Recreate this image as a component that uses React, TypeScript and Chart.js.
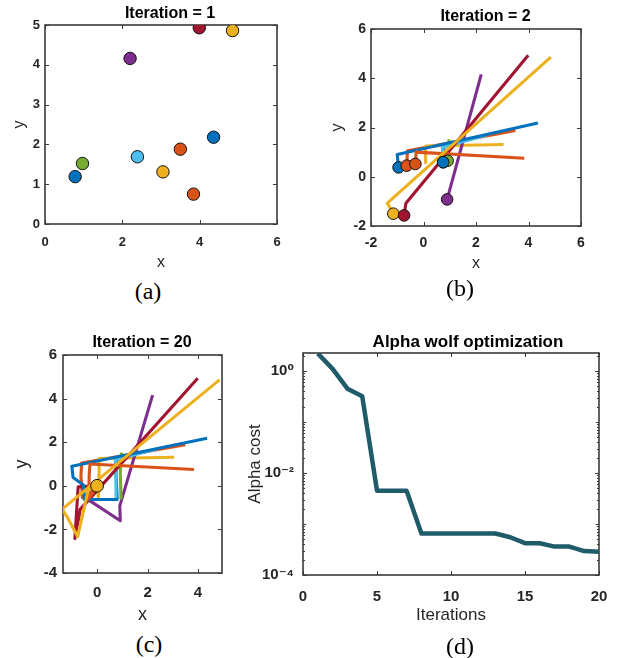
import React, { useEffect, useRef } from 'react';
import { Chart, registerables } from 'chart.js';

Chart.register(...registerables);

const SANS = "'Liberation Sans', Arial, Helvetica, 'DejaVu Sans', sans-serif";
const SERIF = "'Liberation Serif', 'Times New Roman', 'DejaVu Serif', serif";
const INK = '#262626';
Chart.defaults.font.family = SANS;

// MATLAB default colour order
const BLUE = '#0072BD';
const ORANGE = '#D95319';
const YELLOW = '#EDB120';
const PURPLE = '#7E2F8E';
const GREEN = '#77AC30';
const CYAN = '#4DBEEE';
const RED = '#A2142F';
const COST_COLOR = '#1F5B69';

// ---------- data ----------
const agentColors = [BLUE, ORANGE, YELLOW, PURPLE, GREEN, CYAN, RED, BLUE, ORANGE, YELLOW];

// (a) initial wolf positions, iteration 1
const startX = [0.78, 3.5, 3.05, 2.2, 0.97, 2.39, 3.99, 4.36, 3.84, 4.85];
const startY = [1.19, 1.88, 1.31, 4.16, 1.52, 1.69, 4.93, 2.18, 0.75, 4.86];

// (b) moves made up to iteration 2 (after the start point)
const iter2StepsX = [[0.75], [-0.61, -0.64], [0.08, 0.08], [0.9], [0.92], [0.72, 0.75], [-0.67, -0.74], [-1.0, -0.95], [-0.28, -0.31], [-1.38, -1.15]];
const iter2StepsY = [[0.59], [1.05, 0.45], [1.25, 0.57], [-0.92], [0.65], [1.2, 0.59], [-1.08, -1.57], [0.9, 0.38], [1.0, 0.52], [-1.07, -1.5]];
// agents whose marker is visible in (b), drawn in this order (later on top)
const iter2MarkerAgents = [10, 7, 8, 2, 9, 6, 5, 1, 4];

// (c) further moves up to iteration 20
const iter20StepsX = [[0.8], [-0.58, 0], [0.05, 0], [0.92, -0.4, 0], [0.95], [0.75], [-0.88, -0.75, 0], [-0.54, -0.5, 0.84], [-0.33, 0], [-0.77, -0.35, 0]];
const iter20StepsY = [[-0.63], [-0.55, 0], [-0.5, 0], [-1.6, -0.6, 0], [-0.63], [-0.63], [-2.42, -0.05, 0], [0.04, -0.63, -0.63], [-0.6, 0], [-2.33, -0.2, 0]];
const bestX20 = [0];
const bestY20 = [0];

// (d) alpha cost per iteration
const costIterations = [1, 2, 3, 4, 5, 6, 7, 8, 9, 10, 11, 12, 13, 14, 15, 16, 17, 18, 19, 20];
const alphaCost = [2.2, 1.1, 0.45, 0.32, 0.0045, 0.0045, 0.0045, 0.00065, 0.00065, 0.00065, 0.00065, 0.00065, 0.00065, 0.00055, 0.00042, 0.00042, 0.00036, 0.00036, 0.000295, 0.000285];

// tick values / labels
const ticksAX = [0, 2, 4, 6];
const ticksAY = [0, 1, 2, 3, 4, 5];
const ticksBX = [-2, 0, 2, 4, 6];
const ticksBY = [-2, 0, 2, 4, 6];
const ticksCX = [0, 2, 4];
const ticksCY = [-4, -2, 0, 2, 4, 6];
const ticksDX = [0, 5, 10, 15, 20];
const ticksDY = [1e-4, 1e-2, 1];
const labelsDY = ['10⁻⁴', '10⁻²', '10⁰'];

// ---------- helpers ----------
type Pt = { x: number; y: number };

function trail2(a: number): Pt[] {
  const pts: Pt[] = [{ x: startX[a], y: startY[a] }];
  iter2StepsX[a].forEach((x, i) => pts.push({ x, y: iter2StepsY[a][i] }));
  return pts;
}
function trail20(a: number): Pt[] {
  const pts = trail2(a);
  iter20StepsX[a].forEach((x, i) => pts.push({ x, y: iter20StepsY[a][i] }));
  return pts;
}

const boxPlugin = {
  id: 'matlabBox',
  beforeDatasetsDraw(chart: any, _args: any, opts: any) {
    const { ctx, chartArea, scales } = chart;
    const { left, right, top, bottom } = chartArea;
    const L = opts.tickLen ?? 4;
    ctx.save();
    ctx.strokeStyle = '#3a3a3a';
    ctx.lineWidth = 1;
    const line = (x1: number, y1: number, x2: number, y2: number) => {
      ctx.beginPath();
      ctx.moveTo(x1, y1);
      ctx.lineTo(x2, y2);
      ctx.stroke();
    };
    const xs = scales.x;
    const ys = scales.y;
    xs.ticks.forEach((t: any) => {
      const px = Math.round(xs.getPixelForValue(t.value)) + 0.5;
      line(px, bottom, px, bottom - L);
      line(px, top, px, top + L);
    });
    ys.ticks.forEach((t: any) => {
      const py = Math.round(ys.getPixelForValue(t.value)) + 0.5;
      line(left, py, left + L, py);
      line(right, py, right - L, py);
    });
    if (ys.type === 'logarithmic') {
      const e0 = Math.floor(Math.log10(ys.min));
      const e1 = Math.ceil(Math.log10(ys.max));
      for (let e = e0; e <= e1; e++) {
        for (let m = 1; m <= 9; m++) {
          const v = m * Math.pow(10, e);
          if (v < ys.min || v > ys.max) continue;
          if (m === 1 && e % 2 === 0) continue;
          const py = Math.round(ys.getPixelForValue(v)) + 0.5;
          const l = m === 1 ? L * 0.8 : L * 0.5;
          line(left, py, left + l, py);
          line(right, py, right - l, py);
        }
      }
    }
    ctx.lineWidth = 1.6;
    ctx.strokeStyle = '#3a3a3a';
    ctx.strokeRect(left, top, right - left, bottom - top);
    ctx.restore();
  },
};

interface AxisSpec {
  type?: 'linear' | 'logarithmic';
  min: number;
  max: number;
  ticks: number[];
  labels?: string[];
  tickSize: number;
  tickPad: number;
  size: number;
  title: string;
  titleSize: number;
  titlePad: number;
}

interface PanelSpec {
  left: number;
  top: number;
  w: number;
  h: number;
  title: string;
  titleSize: number;
  titlePadTop: number;
  titlePadBottom: number;
  gap: number;
  x: AxisSpec;
  y: AxisSpec;
  datasets: any[];
}

function axisOptions(a: AxisSpec, horizontal: boolean) {
  return {
    type: a.type ?? 'linear',
    position: horizontal ? 'bottom' : 'left',
    min: a.min,
    max: a.max,
    bounds: 'data',
    afterBuildTicks: (s: any) => {
      s.ticks = a.ticks.map((v) => ({ value: v }));
    },
    afterFit: (s: any) => {
      if (horizontal) s.height = a.size;
      else s.width = a.size;
    },
    grid: { display: false, drawTicks: false, tickLength: 0 },
    border: { display: false },
    ticks: {
      color: INK,
      padding: a.tickPad,
      maxRotation: 0,
      autoSkip: false,
      font: { family: SANS, size: a.tickSize, weight: 'bold' },
      callback: (v: any) => {
        const i = a.ticks.findIndex((t) => Math.abs(t - Number(v)) < Math.abs(t) * 1e-6 + 1e-9);
        if (a.labels && i >= 0) return a.labels[i];
        return String(v);
      },
    },
    title: {
      display: true,
      text: a.title,
      color: INK,
      font: { family: SANS, size: a.titleSize, weight: 'normal' },
      padding: horizontal ? { top: 0, bottom: a.titlePad } : { top: a.titlePad, bottom: 0 },
    },
  };
}

function buildConfig(p: PanelSpec): any {
  return {
    type: 'scatter',
    data: { datasets: p.datasets },
    plugins: [boxPlugin],
    options: {
      responsive: false,
      animation: false,
      devicePixelRatio: 1,
      events: [],
      layout: { padding: 0 },
      plugins: {
        legend: { display: false },
        tooltip: { enabled: false },
        title: {
          display: true,
          text: p.title,
          color: '#000',
          font: { family: SANS, size: p.titleSize, weight: 'bold', lineHeight: 1.2 },
          padding: { top: p.titlePadTop, bottom: p.titlePadBottom },
        },
        matlabBox: { tickLen: 4 },
      },
      scales: {
        x: axisOptions(p.x, true),
        y: axisOptions(p.y, false),
        gap: {
          type: 'linear',
          position: 'right',
          display: true,
          grid: { display: false, drawTicks: false },
          border: { display: false },
          ticks: { display: false },
          afterFit: (s: any) => {
            s.width = p.gap;
          },
        },
      },
    },
  };
}

function trailDatasets(trails: Pt[][]) {
  return trails.map((pts, k) => ({
    data: pts,
    showLine: true,
    borderColor: agentColors[k],
    backgroundColor: agentColors[k],
    borderWidth: 3.1,
    borderJoinStyle: 'round',
    borderCapStyle: 'butt',
    tension: 0,
    pointRadius: 0,
    order: trails.length - k,
  }));
}

function markerDataset(pts: Pt[], colors: string[], r: number) {
  return {
    data: pts,
    showLine: false,
    pointRadius: r,
    pointBackgroundColor: colors,
    pointBorderColor: '#111',
    pointBorderWidth: 1,
    order: 0,
  };
}

const agentIdx = startX.map((_, i) => i);

const panelA: PanelSpec = {
  left: 0, top: 0, w: 340, h: 274,
  title: 'Iteration = 1', titleSize: 16, titlePadTop: 4.4, titlePadBottom: 1.4,
  gap: 63,
  x: { min: 0, max: 6, ticks: ticksAX, tickSize: 13, tickPad: 10.2, size: 50, title: 'x', titleSize: 16, titlePad: 1.4 },
  y: { min: 0, max: 5, ticks: ticksAY, tickSize: 13, tickPad: 5, size: 45, title: 'y', titleSize: 16, titlePad: 10.4 },
  datasets: [
    markerDataset(agentIdx.map((i) => ({ x: startX[i], y: startY[i] })), agentColors, 6.2),
  ],
};

const trails2 = agentIdx.map((i) => trail2(i));
const panelB: PanelSpec = {
  left: 322, top: 0, w: 327, h: 276,
  title: 'Iteration = 2', titleSize: 16, titlePadTop: 7.4, titlePadBottom: 2.4,
  gap: 68,
  x: { min: -2, max: 6, ticks: ticksBX, tickSize: 14, tickPad: 8.6, size: 50, title: 'x', titleSize: 16, titlePad: 2.4 },
  y: { min: -2, max: 6, ticks: ticksBY, tickSize: 14, tickPad: 5, size: 49, title: 'y', titleSize: 16, titlePad: 6.4 },
  datasets: [
    markerDataset(
      iter2MarkerAgents.map((a) => trails2[a - 1][trails2[a - 1].length - 1]),
      iter2MarkerAgents.map((a) => agentColors[a - 1]),
      5.8
    ),
    ...trailDatasets(trails2),
  ],
};

const trails20 = agentIdx.map((i) => trail20(i));
const panelC: PanelSpec = {
  left: 0, top: 320, w: 284, h: 308,
  title: 'Iteration = 20', titleSize: 16, titlePadTop: 13.4, titlePadBottom: 2.4,
  gap: 62,
  x: { min: -1.35, max: 4.95, ticks: ticksCX, tickSize: 15, tickPad: 11, size: 55, title: 'x', titleSize: 18, titlePad: 2.2 },
  y: { min: -4, max: 6, ticks: ticksCY, tickSize: 15, tickPad: 6, size: 63, title: 'y', titleSize: 18, titlePad: 11.2 },
  datasets: [
    markerDataset(bestX20.map((x, i) => ({ x, y: bestY20[i] })), [YELLOW], 6.4),
    ...trailDatasets(trails20),
  ],
};

const panelD: PanelSpec = {
  left: 240, top: 320, w: 456, h: 307,
  title: 'Alpha wolf optimization', titleSize: 17, titlePadTop: 12.6, titlePadBottom: 0,
  gap: 97,
  x: { min: 0, max: 20, ticks: ticksDX, tickSize: 15, tickPad: 13, size: 52, title: 'Iterations', titleSize: 17, titlePad: 1.8 },
  y: { type: 'logarithmic', min: 1e-4, max: 2.25, ticks: ticksDY, labels: labelsDY, tickSize: 15, tickPad: 9, size: 63, title: 'Alpha cost', titleSize: 17, titlePad: 4.8 },
  datasets: [
    {
      data: costIterations.map((x, i) => ({ x, y: alphaCost[i] })),
      showLine: true,
      borderColor: COST_COLOR,
      backgroundColor: COST_COLOR,
      borderWidth: 4.5,
      borderJoinStyle: 'round',
      tension: 0,
      pointRadius: 0,
    },
  ],
};

function Panel({ spec }: { spec: PanelSpec }) {
  const ref = useRef<HTMLCanvasElement>(null);
  useEffect(() => {
    if (!ref.current) return;
    const chart = new Chart(ref.current, buildConfig(spec));
    return () => chart.destroy();
  }, [spec]);
  return (
    <canvas
      ref={ref}
      width={spec.w}
      height={spec.h}
      style={{ position: 'absolute', left: spec.left, top: spec.top, width: spec.w, height: spec.h }}
    />
  );
}

function Caption({ text, cx, cy }: { text: string; cx: number; cy: number }) {
  return (
    <div
      style={{
        position: 'absolute',
        left: cx,
        top: cy,
        transform: 'translate(-50%, -50%)',
        font: `24px ${SERIF}`,
        lineHeight: 1,
        color: '#000',
        whiteSpace: 'nowrap',
      }}
    >
      {text}
    </div>
  );
}

export default function App() {
  return (
    <div style={{ position: 'fixed', left: 0, top: 0, width: 624, height: 658, overflow: 'hidden', background: '#fff' }}>
      <Panel spec={panelA} />
      <Panel spec={panelB} />
      <Panel spec={panelC} />
      <Panel spec={panelD} />
      <Caption text="(a)" cx={148} cy={291} />
      <Caption text="(b)" cx={460} cy={288} />
      <Caption text="(c)" cx={149} cy={644} />
      <Caption text="(d)" cx={460} cy={646} />
    </div>
  );
}
